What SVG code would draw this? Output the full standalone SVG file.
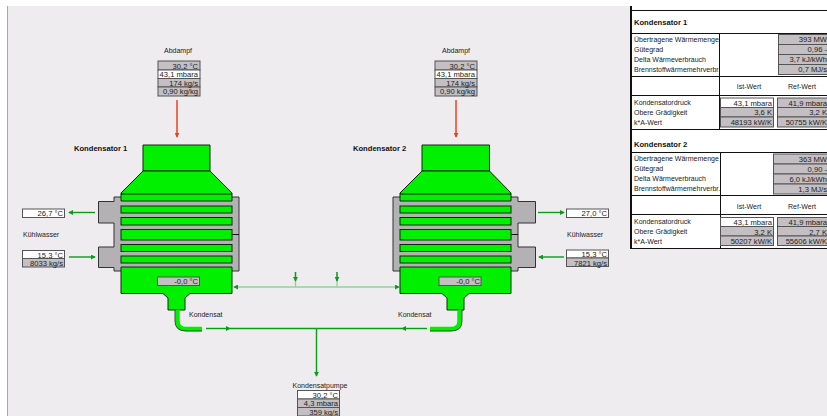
<svg xmlns="http://www.w3.org/2000/svg" width="827" height="416" viewBox="0 0 827 416">
<style>
text{font-family:"Liberation Sans",Arial,sans-serif;font-size:7px;fill:#222}
.b{font-weight:bold;fill:#111;font-size:7.600px}
.m{text-anchor:middle}
.e{text-anchor:end;font-size:7.600px}
.g{fill:#c3bfc3;stroke:#555;stroke-width:1}
.w{fill:#fff;stroke:#555;stroke-width:1}
.s{fill:#b4b1b5;stroke:#333;stroke-width:1}
.f{fill:#00f000;stroke:#0a2a0a;stroke-width:1}
.l{fill:none;stroke:#0c9a1c;stroke-width:1.4}
.p{fill:none;stroke:#8fd496;stroke-width:1.3}
.t{stroke:#111;stroke-width:1;fill:none}
</style>
<defs>
<marker id="ag" viewBox="0 0 6 6" refX="5" refY="3" markerWidth="5" markerHeight="5" markerUnits="userSpaceOnUse" orient="auto"><path d="M0 0L6 3L0 6Z" fill="#0c9a1c"/></marker>
<marker id="ar" viewBox="0 0 6 6" refX="5" refY="3" markerWidth="5" markerHeight="5" markerUnits="userSpaceOnUse" orient="auto"><path d="M0 0L6 3L0 6Z" fill="#f0401a"/></marker>
</defs>
<rect width="827" height="416" fill="#ffffff"/>
<rect x="7" y="6" width="820" height="410" fill="#eeecee"/>
<path d="M7.500 6V416" stroke="#a8a8a8" fill="none"/>
<rect x="631" y="6" width="196" height="242" fill="#fff"/>

<g id="connectors">
<path d="M177 100V137" stroke="#f0401a" stroke-width="1.500" marker-end="url(#ar)"/>
<path d="M456 100V137" stroke="#f0401a" stroke-width="1.500" marker-end="url(#ar)"/>
<path class="l" d="M95 212.500H69" marker-end="url(#ag)"/>
<path class="l" d="M69 257H95" marker-end="url(#ag)"/>
<path class="l" d="M538 212.500H564" marker-end="url(#ag)"/>
<path class="l" d="M564 257H539" marker-end="url(#ag)"/>
<path class="p" d="M316 287H234" marker-end="url(#ag)"/>
<path class="p" d="M316 287H399" marker-end="url(#ag)"/>
<path class="p" d="M295.500 287V272M337 287V272"/>
<path class="l" d="M295.500 272V281" marker-end="url(#ag)"/>
<path class="l" d="M337 272V281" marker-end="url(#ag)"/>
<path class="l" d="M206 328.500H230" marker-end="url(#ag)"/>
<path class="l" d="M230 328.500H316.500"/>
<path class="l" d="M427 328.500H402" marker-end="url(#ag)"/>
<path class="l" d="M402 328.500H316.500"/>
<path class="l" d="M316.500 328.500V376" marker-end="url(#ag)"/>
</g>

<g id="abdampf-1">
<text class="m" x="178" y="53">Abdampf</text>
<rect class="g" x="158" y="61" width="42" height="9"/><rect class="w" x="158" y="70" width="42" height="8.500"/><rect class="g" x="158" y="78.500" width="42" height="8.500"/><rect class="g" x="158" y="87" width="42" height="9"/>
<text class="e" x="198" y="68.500">30,2 °C</text><text class="e" x="198" y="77">43,1 mbara</text><text class="e" x="198" y="85.500">174 kg/s</text><text class="e" x="198" y="94">0,90 kg/kg</text>
</g>
<g id="abdampf-2">
<text class="m" x="456" y="53">Abdampf</text>
<rect class="g" x="435" y="61" width="42" height="9"/><rect class="w" x="435" y="70" width="42" height="8.500"/><rect class="g" x="435" y="78.500" width="42" height="8.500"/><rect class="g" x="435" y="87" width="42" height="9"/>
<text class="e" x="475" y="68.500">30,2 °C</text><text class="e" x="475" y="77">43,1 mbara</text><text class="e" x="475" y="85.500">174 kg/s</text><text class="e" x="475" y="94">0,90 kg/kg</text>
</g>

<g id="kondensator-1">
<text class="b" x="74" y="151">Kondensator 1</text>
<path class="s" d="M114 197H239V271H114V267.500H98.500V247H114V223H98.500V201.500H114Z"/>
<path class="t" d="M232 234.500H239"/>
<path class="f" d="M143 145H210V171H143Z"/>
<path class="f" d="M143 171H210L232 193V201H121V193Z"/>
<path class="t" d="M121 194H232"/>
<rect class="f" x="121" y="206" width="111" height="7"/><rect class="f" x="121" y="217.500" width="111" height="7.500"/><rect class="f" x="121" y="229.500" width="111" height="10.500"/><rect class="f" x="121" y="244.500" width="111" height="7"/><rect class="f" x="121" y="256" width="111" height="7"/>
<path class="f" d="M121 267H232V293.500H190L185 298V310H168V298L163 293.500H121Z"/>
<path d="M177.500 310V321Q177.500 329 186 329H202" fill="none" stroke="#00f000" stroke-width="4.500"/>
<path d="M175 310V321Q175 331 186 331H202" fill="none" stroke="#222" stroke-width="0.800"/>
<rect class="g" x="157.500" y="277" width="42" height="8.500"/>
<text class="e" x="198" y="284">-0,0 °C</text>
<text x="189" y="317">Kondensat</text>
</g>
<g id="kuehlwasser-1">
<rect class="w" x="22.500" y="209" width="42" height="8.500"/>
<text class="e" x="63" y="216">26,7 °C</text>
<text x="23" y="237">Kühlwasser</text>
<rect class="w" x="22.500" y="250.500" width="42" height="8"/><rect class="g" x="22.500" y="258.500" width="42" height="8.500"/>
<text class="e" x="63" y="257.500">15,3 °C</text><text class="e" x="63" y="266">8033 kg/s</text>
</g>

<g id="kondensator-2">
<text class="b" x="353" y="151">Kondensator 2</text>
<path class="s" d="M393 197H518V201.500H535.500V223H518V247H535.500V267.500H518V271H393Z"/>
<path class="t" d="M511 234.500H518"/>
<path class="f" d="M422 145H489.500V171H422Z"/>
<path class="f" d="M422 171H489.500L511 193V201H400V193Z"/>
<path class="t" d="M400 194H511"/>
<rect class="f" x="400" y="206" width="111" height="7"/><rect class="f" x="400" y="217.500" width="111" height="7.500"/><rect class="f" x="400" y="229.500" width="111" height="10.500"/><rect class="f" x="400" y="244.500" width="111" height="7"/><rect class="f" x="400" y="256" width="111" height="7"/>
<path class="f" d="M400 267H511V293.500H469L464 298V310H447V298L442 293.500H400Z"/>
<path d="M459.500 310V321Q459.500 329 451 329H430" fill="none" stroke="#00f000" stroke-width="4.500"/>
<path d="M462 310V321Q462 331 451 331H430" fill="none" stroke="#222" stroke-width="0.800"/>
<rect class="g" x="439" y="277" width="42" height="8.500"/>
<text class="e" x="480" y="284">-0,0 °C</text>
<text x="398" y="317">Kondensat</text>
</g>
<g id="kuehlwasser-2">
<rect class="w" x="566.500" y="209" width="42" height="8.500"/>
<text class="e" x="607" y="216">27,0 °C</text>
<text x="567" y="237">Kühlwasser</text>
<rect class="w" x="566.500" y="250" width="42" height="8"/><rect class="g" x="566.500" y="258" width="42" height="8.500"/>
<text class="e" x="607" y="257">15,3 °C</text><text class="e" x="607" y="265.500">7821 kg/s</text>
</g>

<g id="kondensatpumpe">
<text class="m" x="320" y="388">Kondensatpumpe</text>
<rect class="w" x="297.500" y="390.500" width="42" height="8.500"/><rect class="g" x="297.500" y="399" width="42" height="8.500"/><rect class="g" x="297.500" y="407.500" width="42" height="8.500"/>
<text class="e" x="338" y="397.500">30,2 °C</text><text class="e" x="338" y="406">4,3 mbara</text><text class="e" x="338" y="414.500">359 kg/s</text>
</g>

<g id="tabelle-1">
<path class="t" d="M631 10.500H827M631 33.500H827M631 76.500H827M631 95.500H827M631 129.500H827M719.500 33.500V129.500"/>
<path d="M631 6V130" stroke="#111" stroke-width="2" fill="none"/>
<text class="b" x="634" y="25">Kondensator 1</text>
<text x="634" y="41.500">Übertragene Wärmemenge</text><text x="634" y="51.500">Gütegrad</text><text x="634" y="61.500">Delta Wärmeverbrauch</text><text x="634" y="71.500">Brennstoffwärmemehrverbr.</text>
<rect class="g" x="778.500" y="34.500" width="50" height="10"/><rect class="g" x="778.500" y="44.500" width="50" height="10"/><rect class="g" x="778.500" y="54.500" width="50" height="10"/><rect class="g" x="778.500" y="64.500" width="50" height="10"/>
<text class="e" x="827" y="42">393 MW</text><text class="e" x="827" y="52">0,96 -</text><text class="e" x="827" y="62">3,7 kJ/kWh</text><text class="e" x="827" y="72">0,7 MJ/s</text>
<text class="m" x="749" y="89">Ist-Wert</text><text class="m" x="802" y="89">Ref-Wert</text>
<text x="634" y="105">Kondensatordruck</text><text x="634" y="115">Obere Grädigkeit</text><text x="634" y="125">k*A-Wert</text>
<rect class="w" x="720.500" y="98" width="53" height="9.500"/><rect class="g" x="720.500" y="107.500" width="53" height="9.500"/><rect class="g" x="720.500" y="117" width="53" height="10"/>
<rect class="g" x="777.500" y="98" width="51" height="9.500"/><rect class="g" x="777.500" y="107.500" width="51" height="9.500"/><rect class="g" x="777.500" y="117" width="51" height="10"/>
<text class="e" x="772" y="105.500">43,1 mbara</text><text class="e" x="772" y="115">3,6 K</text><text class="e" x="772" y="125">48193 kW/K</text>
<text class="e" x="827" y="105.500">41,9 mbara</text><text class="e" x="827" y="115">3,2 K</text><text class="e" x="827" y="125">50755 kW/K</text>
</g>

<g id="tabelle-2">
<path class="t" d="M631 152.500H827M631 195.500H827M631 214.500H827M631 248.500H827M720.500 152.500V248.500"/>
<path d="M631 130V249" stroke="#111" stroke-width="2" fill="none"/>
<text class="b" x="634" y="147">Kondensator 2</text>
<text x="634" y="161">Übertragene Wärmemenge</text><text x="634" y="171">Gütegrad</text><text x="634" y="181">Delta Wärmeverbrauch</text><text x="634" y="191">Brennstoffwärmemehrverbr.</text>
<rect class="g" x="773.500" y="154" width="55" height="10"/><rect class="g" x="773.500" y="164" width="55" height="10"/><rect class="g" x="773.500" y="174" width="55" height="10"/><rect class="g" x="773.500" y="184" width="55" height="10"/>
<text class="e" x="827" y="161.500">363 MW</text><text class="e" x="827" y="171.500">0,90 -</text><text class="e" x="827" y="181.500">6,0 kJ/kWh</text><text class="e" x="827" y="191.500">1,3 MJ/s</text>
<text class="m" x="749" y="209">Ist-Wert</text><text class="m" x="802" y="209">Ref-Wert</text>
<text x="634" y="224">Kondensatordruck</text><text x="634" y="234">Obere Grädigkeit</text><text x="634" y="244">k*A-Wert</text>
<rect class="w" x="720.500" y="217.500" width="53" height="9"/><rect class="g" x="720.500" y="226.500" width="53" height="9.500"/><rect class="g" x="720.500" y="236" width="53" height="9.500"/>
<rect class="g" x="777.500" y="217.500" width="51" height="9"/><rect class="g" x="777.500" y="226.500" width="51" height="9.500"/><rect class="g" x="777.500" y="236" width="51" height="9.500"/>
<text class="e" x="772" y="225">43,1 mbara</text><text class="e" x="772" y="234.500">3,2 K</text><text class="e" x="772" y="244">50207 kW/K</text>
<text class="e" x="827" y="225">41,9 mbara</text><text class="e" x="827" y="234.500">2,7 K</text><text class="e" x="827" y="244">55606 kW/K</text>
</g>
</svg>
